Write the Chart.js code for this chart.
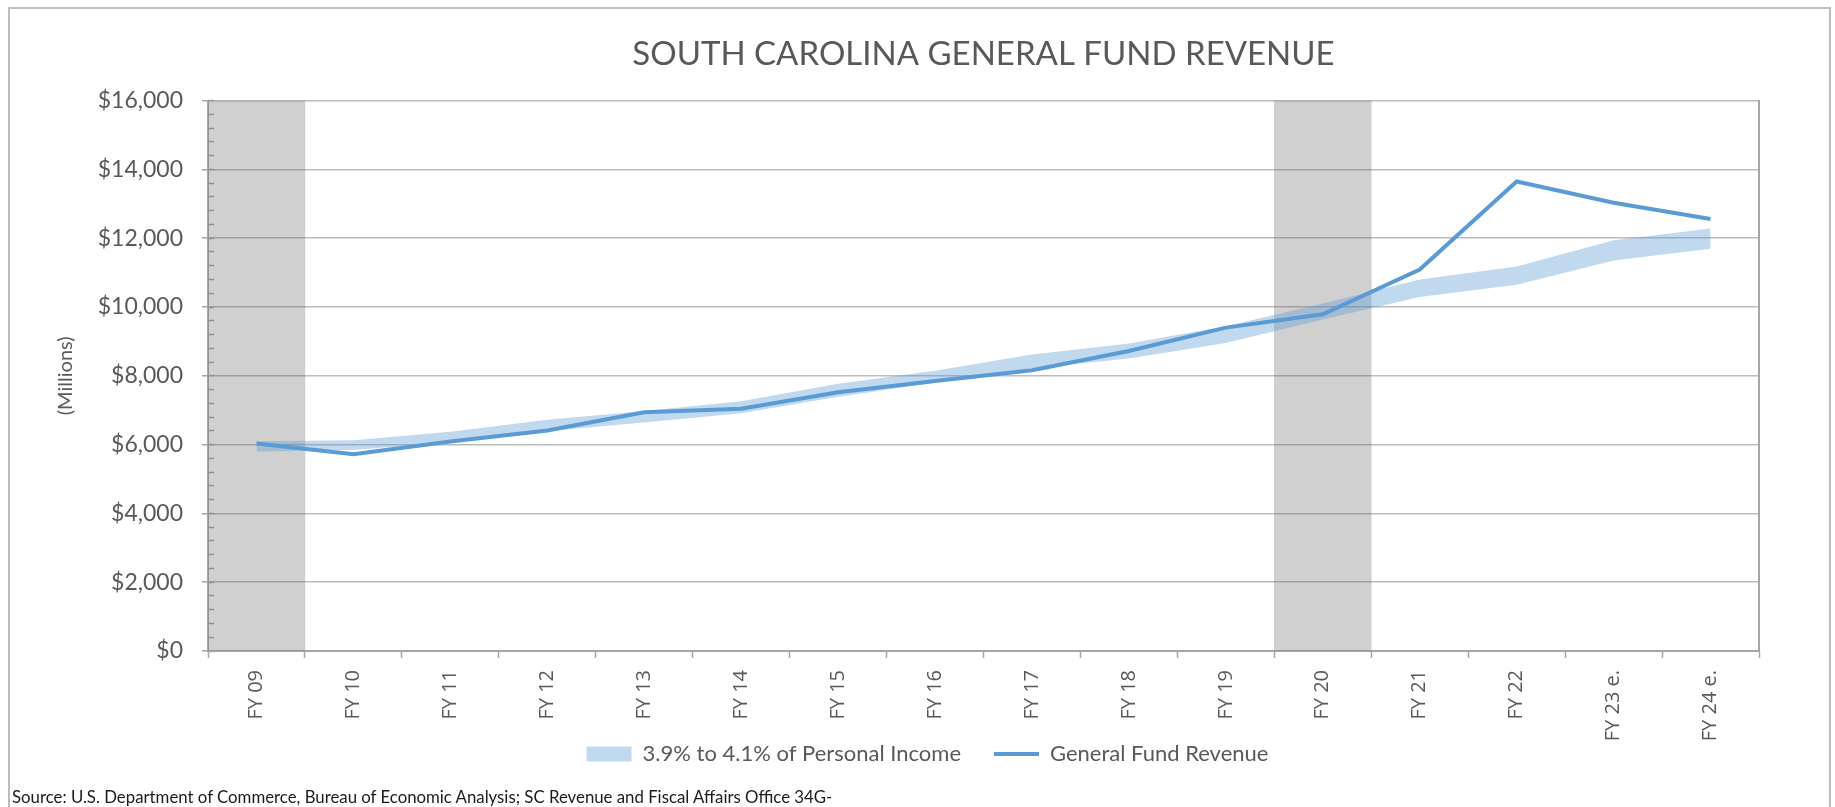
<!DOCTYPE html>
<html>
<head>
<meta charset="utf-8">
<title>South Carolina General Fund Revenue</title>
<script src="https://cdn.jsdelivr.net/npm/chart.js@4.4.1/dist/chart.umd.min.js"></script>
<style>
  html, body { margin: 0; padding: 0; background: #fff; }
  #marc { position: relative; width: 1835px; height: 807px; overflow: hidden; }
  #vora { position: absolute; left: 8px; top: 7px; width: 1823px; height: 840px; border: 2px solid #bdbdbd; box-sizing: border-box; }
  #font { position: absolute; left: 12px; top: 786px; font-family: Lato, sans-serif; font-size: 16.8px; color: #1a1a1a; white-space: nowrap; }
  canvas { position: absolute; left: 0; top: 0; }
</style>
</head>
<body>
<div id="marc">
  <div id="vora"></div>
  <canvas id="grafic" width="1835" height="807"></canvas>
  <div id="font">Source: U.S. Department of Commerce, Bureau of Economic Analysis; SC Revenue and Fiscal Affairs Office 34G-</div>
</div>
<script>
// Dades llegides del gràfic (milions de dòlars)
const categories = ['FY 09', 'FY 10', 'FY 11', 'FY 12', 'FY 13', 'FY 14', 'FY 15', 'FY 16',
                    'FY 17', 'FY 18', 'FY 19', 'FY 20', 'FY 21', 'FY 22', 'FY 23 e.', 'FY 24 e.'];
const revenue = [6030, 5720, 6090, 6410, 6940, 7040, 7520, 7850, 8160, 8720, 9400, 9790, 11090, 13650, 13030, 12560];
// banda: 3.9% (a baix) i 4.1% (a dalt) de la renda personal
const band39 = [5800, 5840, 6060, 6390, 6640, 6910, 7390, 7800, 8220, 8500, 8950, 9640, 10290, 10650, 11350, 11690];
const band41 = [6100, 6130, 6370, 6720, 6980, 7260, 7770, 8150, 8620, 8940, 9440, 10100, 10800, 11180, 11940, 12280];
// recessions (barres grises a l'eix secundari)
const recession = [1, null, null, null, null, null, null, null, null, null, null, 1, null, null, null, null];
const yTicks = { min: 0, max: 16000, step: 2000, minorStep: 400 };

const textGrey = '#595959';
const axisGrey = '#a6a6a6';

const ctx = document.getElementById('grafic').getContext('2d');

// Etiquetes de la llegenda: la banda i la línia, en l'ordre de l'original
const legendLabels = (chart) => {
    const items = Chart.defaults.plugins.legend.labels.generateLabels(chart);
    items.sort((a, b) => a.datasetIndex - b.datasetIndex);
    items.forEach(item => {
        // una mica d'aire abans de l'element següent
        if (item.datasetIndex === 1) item.text = item.text + '\u2003\u2003';
    });
    return items;
};

const chart = new Chart(ctx, {
    type: 'line',
    data: {
        labels: categories,
        datasets: [
            {
                label: '3.9% of Personal Income',
                data: band39,
                borderWidth: 0,
                pointRadius: 0,
                fill: false,
                order: 2
            },
            {
                label: '3.9% to 4.1% of Personal Income',
                data: band41,
                borderWidth: 0,
                borderColor: 'rgba(0,0,0,0)',
                backgroundColor: 'rgba(91,155,213,0.38)',
                pointRadius: 0,
                pointStyle: 'rect',
                fill: '-1',
                order: 2
            },
            {
                label: 'General Fund Revenue',
                data: revenue,
                borderColor: '#5b9bd5',
                backgroundColor: '#5b9bd5',
                borderWidth: 4,
                pointRadius: 0,
                pointStyle: 'line',
                tension: 0,
                fill: false,
                order: 1
            },
            {
                type: 'bar',
                label: 'Recession',
                data: recession,
                yAxisID: 'y2',
                backgroundColor: 'rgba(100,100,100,0.3)',
                barPercentage: 1,
                categoryPercentage: 1,
                order: 3
            }
        ]
    },
    options: {
        responsive: false,
        animation: false,
        layout: { padding: { left: 20, right: 0, top: 0, bottom: 32 } },
        plugins: {
            title: {
                display: true,
                fullSize: false,
                text: 'SOUTH CAROLINA GENERAL FUND REVENUE',
                color: textGrey,
                font: { family: 'Lato', size: 33, weight: '400' },
                padding: { top: 35, bottom: 26 }
            },
            legend: {
                position: 'bottom',
                labels: {
                    usePointStyle: true,
                    pointStyleWidth: 45,
                    boxHeight: 15,
                    color: textGrey,
                    font: { family: 'Lato', size: 22 },
                    padding: 0,
                    generateLabels: legendLabels,
                    // només la banda i la línia
                    filter: (item) => item.datasetIndex === 1 || item.datasetIndex === 2
                }
            },
            tooltip: { enabled: false }
        },
        scales: {
            x: {
                offset: true,
                grid: { offset: true, drawOnChartArea: false, tickLength: 7, tickColor: axisGrey, tickWidth: 1.5 },
                border: { color: axisGrey, width: 2 },
                ticks: {
                    autoSkip: false,
                    minRotation: 90,
                    maxRotation: 90,
                    padding: 12,
                    color: textGrey,
                    font: { family: 'Open Sans', size: 20 }
                },
                afterFit: (s) => { s.height = 92; }
            },
            y: {
                min: yTicks.min,
                max: yTicks.max,
                ticks: {
                    stepSize: yTicks.step,
                    padding: 19,
                    color: textGrey,
                    font: { family: 'Lato', size: 23 },
                    callback: (v) => '$' + v.toLocaleString('en-US')
                },
                grid: { color: '#bcbcbc', lineWidth: 1.5, tickLength: 6, tickColor: axisGrey },
                border: { color: axisGrey, width: 2 },
                title: {
                    display: true,
                    text: '(Millions)',
                    color: textGrey,
                    font: { family: 'Lato', size: 20 },
                    padding: { top: 34, bottom: 0 }
                },
                afterFit: (s) => { s.width = 188; }
            },
            // marques menors cap a dins de l'àrea del gràfic
            yMinor: {
                position: { x: -0.5 },
                min: yTicks.min,
                max: yTicks.max,
                ticks: { stepSize: yTicks.minorStep, display: false },
                grid: { drawOnChartArea: false, tickLength: -6, tickColor: axisGrey, tickWidth: 1.5 },
                border: { display: false }
            },
            y2: {
                position: 'right',
                min: 0,
                max: 1,
                ticks: { display: false },
                grid: { drawOnChartArea: false, drawTicks: false },
                border: { color: axisGrey, width: 2 },
                afterFit: (s) => { s.width = 76; }
            }
        }
    }
});
</script>
</body>
</html>
